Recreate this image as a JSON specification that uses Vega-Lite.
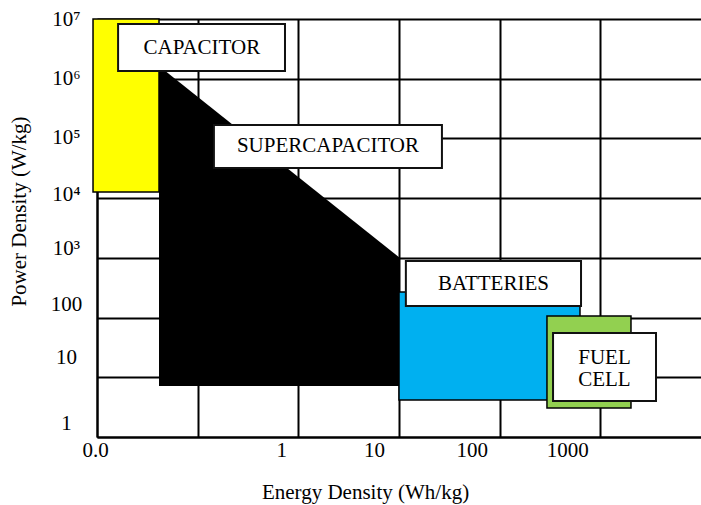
{
  "$schema": "https://vega.github.io/schema/vega-lite/v6.json",
  "width": 604,
  "height": 418,
  "autosize": {"type": "none"},
  "padding": {"left": 97, "top": 19, "right": 0, "bottom": 68},
  "background": "white",
  "config": {
    "view": {"stroke": null},
    "font": "Liberation Serif",
    "text": {"font": "Liberation Serif"}
  },
  "encoding": {
    "x": {
      "field": "x",
      "type": "quantitative",
      "scale": {"type": "log", "domain": [0.01, 10000], "nice": false},
      "axis": {
        "values": [0.01, 0.1, 1, 10, 100, 1000],
        "grid": true,
        "gridColor": "black",
        "gridWidth": 2,
        "gridOpacity": 1,
        "ticks": false,
        "tickSize": 0,
        "domainColor": "black",
        "domainWidth": 2,
        "labelExpr": "datum.value < 0.05 ? '0.0' : datum.value < 0.5 ? '' : format(datum.value, 'd')",
        "labelFont": "Liberation Serif",
        "labelFontSize": 21,
        "labelColor": "black",
        "labelBaseline": "middle",
        "labelAlign": "center",
        "labelPadding": 13,
        "labelFlush": false,
        "labelOverlap": false,
        "labelOffset": {
          "condition": [
            {"test": "datum.value < 0.05", "value": -2},
            {"test": "datum.value == 1", "value": -17},
            {"test": "datum.value == 10", "value": -25},
            {"test": "datum.value == 100", "value": -28},
            {"test": "datum.value == 1000", "value": -33}
          ],
          "value": 0
        },
        "title": "Energy Density (Wh/kg)",
        "titleFont": "Liberation Serif",
        "titleFontSize": 21,
        "titleFontWeight": "normal",
        "titleColor": "black",
        "titleX": 268,
        "titleY": 55,
        "titleBaseline": "middle",
        "titleAlign": "center"
      }
    },
    "y": {
      "field": "y",
      "type": "quantitative",
      "scale": {"type": "log", "domain": [1, 10000000], "nice": false},
      "axis": {
        "values": [1, 10, 100, 1000, 10000, 100000, 1000000, 10000000],
        "grid": true,
        "gridColor": "black",
        "gridWidth": 2,
        "gridOpacity": 1,
        "ticks": false,
        "tickSize": 0,
        "domainColor": "black",
        "domainWidth": 2,
        "labelExpr": "datum.value < 1000 ? format(datum.value, 'd') : '10' + ['³','⁴','⁵','⁶','⁷'][round(log(datum.value)/LN10) - 3]",
        "labelFont": "Liberation Serif",
        "labelFontSize": 21,
        "labelColor": "black",
        "labelBaseline": "middle",
        "labelAlign": "center",
        "labelPadding": 31,
        "labelFlush": false,
        "labelOverlap": false,
        "labelOffset": {
          "condition": [
            {"test": "datum.value == 100000", "value": -1},
            {"test": "datum.value == 10000", "value": -4},
            {"test": "datum.value == 1000", "value": -9},
            {"test": "datum.value == 100", "value": -13},
            {"test": "datum.value == 10", "value": -20},
            {"test": "datum.value == 1", "value": -14}
          ],
          "value": 0
        },
        "title": "Power Density (W/kg)",
        "titleFont": "Liberation Serif",
        "titleFontSize": 21,
        "titleFontWeight": "normal",
        "titleColor": "black",
        "titleX": -78,
        "titleY": 192,
        "titleBaseline": "middle",
        "titleAlign": "center"
      }
    }
  },
  "layer": [
    {
      "data": {"values": [
        {"x": 0.0413, "y": 1630000, "y2": 7.15},
        {"x": 10.23, "y": 995, "y2": 7.15}
      ]},
      "mark": {"type": "area", "color": "black", "opacity": 1, "interpolate": "linear"},
      "encoding": {"y2": {"field": "y2"}}
    },
    {
      "data": {"values": [
        {"name": "Capacitor", "x": 0.00913, "x2": 0.0413, "y": 10000000, "y2": 12680},
        {"name": "Batteries", "x": 10, "x2": 628, "y": 268, "y2": 4.17},
        {"name": "Fuel cell", "x": 295, "x2": 2016, "y": 106, "y2": 3.06}
      ]},
      "mark": {"type": "rect", "stroke": "black", "strokeWidth": 1.5, "opacity": 1},
      "encoding": {
        "x2": {"field": "x2"},
        "y2": {"field": "y2"},
        "color": {
          "field": "name",
          "type": "nominal",
          "scale": {"domain": ["Capacitor", "Batteries", "Fuel cell"], "range": ["#ffff00", "#00b0f0", "#92d050"]},
          "legend": null
        }
      }
    },
    {
      "data": {"values": [
        {"label": "CAPACITOR", "x": 0.0162, "x2": 0.737, "y": 8240000, "y2": 1346000},
        {"label": "SUPERCAPACITOR", "x": 0.145, "x2": 26.7, "y": 168000, "y2": 32000},
        {"label": "BATTERIES", "x": 11.7, "x2": 643, "y": 886, "y2": 156},
        {"label": "FUEL CELL", "x": 339, "x2": 3573, "y": 55.2, "y2": 4.01}
      ]},
      "mark": {"type": "rect", "fill": "white", "stroke": "#111111", "strokeWidth": 2, "opacity": 1},
      "encoding": {
        "x2": {"field": "x2"},
        "y2": {"field": "y2"}
      }
    },
    {
      "data": {"values": [
        {"t": "CAPACITOR", "x": 0.110, "y": 3330000},
        {"t": "SUPERCAPACITOR", "x": 1.97, "y": 74700},
        {"t": "BATTERIES", "x": 86.8, "y": 365},
        {"t": "FUEL", "x": 1099, "y": 21.0},
        {"t": "CELL", "x": 1099, "y": 9.0}
      ]},
      "mark": {"type": "text", "font": "Liberation Serif", "fontSize": 21, "align": "center", "baseline": "middle", "color": "black"},
      "encoding": {"text": {"field": "t", "type": "nominal"}}
    }
  ]
}
